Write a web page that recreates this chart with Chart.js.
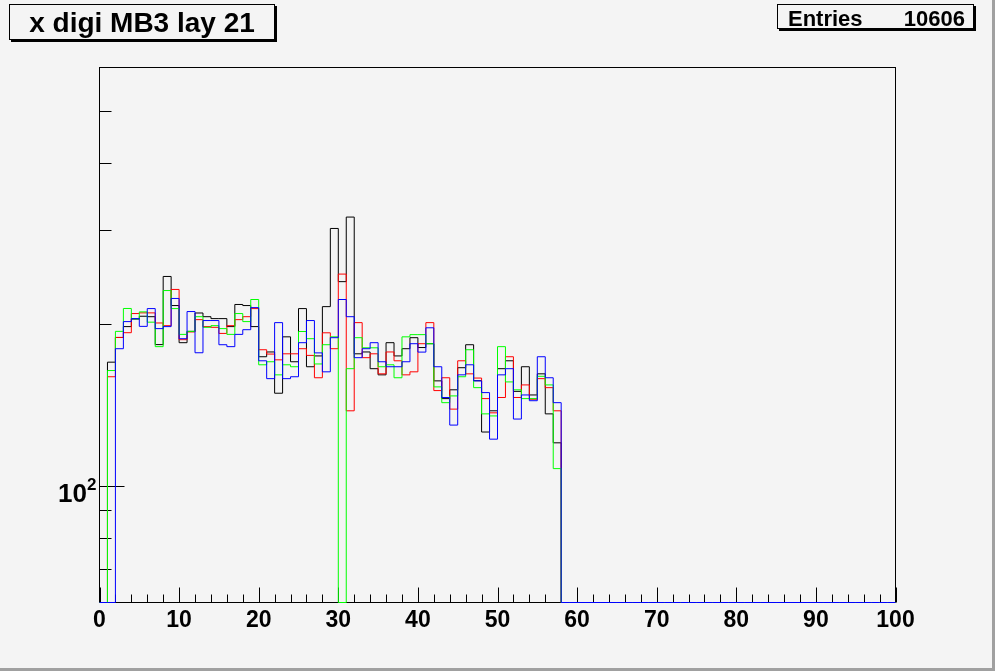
<!DOCTYPE html>
<html>
<head>
<meta charset="utf-8">
<script src="https://cdn.jsdelivr.net/npm/chart.js@4.4.1/dist/chart.umd.min.js"></script>
<style>
  html, body { margin: 0; padding: 0; background: #f4f4f4; }
  #wrap { width: 995px; height: 671px; position: relative; }
</style>
</head>
<body>
<div id="wrap"><canvas id="histo" width="995" height="671"></canvas></div>
<script>
// Histogram bins are 1 unit wide, 0..100; only bins 1..57 are filled
const N_BINS = 100;
const FIRST_BIN = 1;

// Bin contents for bins 1..57 (log scale)
const BLACK = [170, 189, 198, 204.5, 207, 206.6, 183.3, 245.5, 216.7, 184.8,
  194, 209.9, 206.6, 204.9, 204.9, 198, 217.7, 216.7, 198, 174,
  177.6, 148.8, 189.5, 170.3, 213.9, 166.7, 174.6, 215.7, 301.6, 240.1,
  316.7, 176.2, 177.6, 165.3, 161, 184.8, 174.6, 180.1, 188.8, 181,
  184, 156.9, 145.4, 151, 166, 183.2, 157, 126, 138, 165.3,
  171, 150, 166.7, 147.7, 161.7, 136.2, 120.3];

const RED = [159.7, 189, 192.9, 209.4, 210, 210, 201.1, 198.8, 232.2, 187.2,
  193.5, 204, 198, 197.4, 192.3, 198.8, 204, 206.6, 213.9, 179.3,
  176, 171.7, 176.2, 176.2, 180.1, 175, 159, 192.8, 180.1, 248,
  138, 201.4, 173.3, 176.2, 161.7, 177.6, 171, 161, 163.1, 184,
  201.4, 150.5, 159, 139, 171, 161.7, 158.8, 145.4, 136.8, 146.1,
  174, 146.1, 154.2, 145, 158.4, 152.4, 138];

const GREEN = [164, 194, 214, 204.7, 210.9, 201.8, 181.7, 231.1, 213.9, 191.5,
  194, 206.6, 197.4, 198.8, 196.3, 191.5, 209.4, 202.3, 222.4, 168.1,
  170.3, 161, 168.1, 166.7, 193.9, 188, 168.7, 183.2, 189.5, 0,
  165.3, 188.8, 180.8, 180.8, 166.7, 168.1, 159, 189.5, 191.3, 191.3,
  184, 152.9, 142.9, 147.1, 159.7, 179.3, 152.4, 136.2, 135, 181.7,
  156.2, 151, 145.4, 145.4, 160, 154.2, 107.7];

const BLUE = [0, 180.1, 202.3, 204.9, 198.2, 213.9, 196.3, 198, 223.4, 188,
  211.2, 177, 203.2, 203.2, 183.2, 181.7, 191.5, 195.4, 214.8, 171,
  158.4, 201.4, 158.4, 159.7, 184.8, 203.2, 176.9, 163.1, 188.8, 222.4,
  206.6, 173.3, 180.1, 184.8, 170.3, 166.7, 166.7, 170.3, 184, 177.5,
  197, 166.7, 146.1, 129.8, 161, 168.1, 156.9, 149.2, 122.2, 161,
  165.3, 133.2, 147.7, 144.1, 174, 159, 142.9];

// Axis ranges and ticks
const X_MIN = 0, X_MAX = 100;
const Y_MIN = 60.66, Y_MAX = 601.4;
const X_LABELS = [0, 10, 20, 30, 40, 50, 60, 70, 80, 90, 100];
const X_MINOR_STEP = 2;
const Y_MAJOR = [100];
const Y_MINOR = [70, 80, 90, 200, 300, 400, 500];

const TITLE = 'x digi MB3 lay 21';
const STATS_LABEL = 'Entries';
const STATS_VALUE = '10606';

const FONT = 'Liberation Sans';

// turn bin contents into step points (left edge of each bin + closing point)
// empty bins sit on the bottom of the frame, like ROOT does on a log axis
function toSteps(values) {
  const pts = [];
  for (let k = 0; k < N_BINS; k++) {
    const i = k - FIRST_BIN;
    const v = (i >= 0 && i < values.length) ? values[i] : 0;
    pts.push({ x: k, y: v > 0 ? v : Y_MIN });
  }
  pts.push({ x: N_BINS, y: pts[pts.length - 1].y });
  return pts;
}

function histo(label, values, color, order) {
  return {
    label: label,
    data: toSteps(values),
    borderColor: color,
    borderWidth: 1,
    pointRadius: 0,
    stepped: 'before',
    fill: false,
    clip: false,
    order: order   // higher order is drawn first (underneath)
  };
}

// ROOT style frame, inside ticks, title and stats boxes
const rootFrame = {
  id: 'rootFrame',
  beforeDatasetsDraw(chart) {
    const { ctx, chartArea: a, scales: { x, y } } = chart;
    ctx.save();
    ctx.strokeStyle = '#000';
    ctx.lineWidth = 1;
    ctx.strokeRect(a.left, a.top, a.right - a.left, a.bottom - a.top);
    ctx.beginPath();
    for (let v = X_MIN; v <= X_MAX; v += X_MINOR_STEP) {
      const len = X_LABELS.includes(v) ? 15 : 8;
      const px = Math.round(x.getPixelForValue(v)) + 0.5;
      ctx.moveTo(px, a.bottom);
      ctx.lineTo(px, a.bottom - len);
    }
    Y_MAJOR.concat(Y_MINOR).forEach(v => {
      const len = Y_MAJOR.includes(v) ? 25 : 12;
      const py = Math.round(y.getPixelForValue(v)) + 0.5;
      ctx.moveTo(a.left, py);
      ctx.lineTo(a.left + len, py);
    });
    ctx.stroke();

    // y label 10^2 with a real superscript
    const py = y.getPixelForValue(100);
    ctx.fillStyle = '#000';
    ctx.textBaseline = 'alphabetic';
    ctx.textAlign = 'right';
    ctx.font = 'bold 26px "' + FONT + '"';
    ctx.fillText('10', 87, py + 16);
    ctx.textAlign = 'left';
    ctx.font = 'bold 17px "' + FONT + '"';
    ctx.fillText('2', 87, py + 4);
    ctx.restore();
  },
  afterDraw(chart) {
    const ctx = chart.ctx;
    ctx.save();
    // title box with shadow
    ctx.fillStyle = '#000';
    ctx.fillRect(11, 40, 265, 2);
    ctx.fillRect(275, 6, 2, 36);
    ctx.strokeStyle = '#000';
    ctx.lineWidth = 1;
    ctx.strokeRect(9.5, 4.5, 265, 35);
    ctx.font = 'bold 28px "' + FONT + '"';
    ctx.textAlign = 'center';
    ctx.textBaseline = 'alphabetic';
    ctx.fillText(TITLE, 142, 32);

    // stats box with shadow
    ctx.fillRect(779, 29, 196, 2);
    ctx.fillRect(974, 6, 2, 25);
    ctx.strokeRect(777.5, 4.5, 196, 24);
    ctx.font = 'bold 22px "' + FONT + '"';
    ctx.textAlign = 'left';
    ctx.fillText(STATS_LABEL, 788, 26);
    ctx.textAlign = 'right';
    ctx.fillText(STATS_VALUE, 965, 26);

    // canvas bevel on the right and bottom
    ctx.fillStyle = '#a0a0a0';
    ctx.fillRect(992, 0, 3, 671);
    ctx.fillRect(0, 668, 995, 3);
    ctx.restore();
  }
};

new Chart(document.getElementById('histo'), {
  type: 'line',
  data: {
    datasets: [
      histo('black', BLACK, '#000000', 4),
      histo('red', RED, '#ff0000', 3),
      histo('green', GREEN, '#00ff00', 2),
      histo('blue', BLUE, '#0000ff', 1)
    ]
  },
  options: {
    responsive: false,
    animation: false,
    events: [],
    layout: { padding: { left: 0, top: 67.5, right: 99.5, bottom: 0 } },
    plugins: { legend: { display: false }, tooltip: { enabled: false } },
    scales: {
      x: {
        type: 'linear',
        min: X_MIN,
        max: X_MAX,
        afterFit: s => { s.height = 68.5; },
        afterBuildTicks: s => { s.ticks = X_LABELS.map(v => ({ value: v })); },
        ticks: {
          color: '#000',
          font: { family: FONT, size: 23, weight: 'bold' },
          padding: 4,
          maxRotation: 0,
          autoSkip: false
        },
        grid: { display: false, drawTicks: false },
        border: { display: false }
      },
      y: {
        type: 'logarithmic',
        min: Y_MIN,
        max: Y_MAX,
        afterFit: s => { s.width = 99.5; },
        afterBuildTicks: s => { s.ticks = Y_MAJOR.map(v => ({ value: v })); },
        ticks: { display: false },
        grid: { display: false, drawTicks: false },
        border: { display: false }
      }
    }
  },
  plugins: [rootFrame]
});
</script>
</body>
</html>
